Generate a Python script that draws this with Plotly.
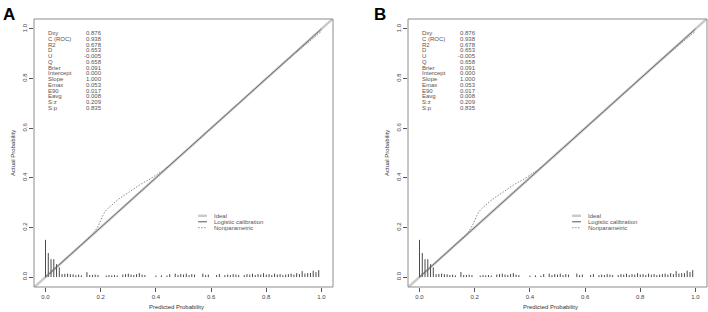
import plotly.graph_objects as go

# ---------------- data ----------------
stat_names = ["Dxy", "C (ROC)", "R2", "D", "U", "Q", "Brier", "Intercept", "Slope",
              "Emax", "E90", "Eavg", "S:z", "S:p"]
stat_values = ["0.876", "0.938", "0.678", "0.653", "-0.005", "0.658", "0.091", "0.000",
               "1.000", "0.053", "0.017", "0.008", "0.209", "0.835"]

ideal_x = [-0.05, 1.05]
ideal_y = [-0.05, 1.05]
logistic_x = [0.0, 1.0]
logistic_y = [0.0, 1.0]

nonpar_x = [0.0, 0.05, 0.10, 0.15, 0.17, 0.19, 0.216, 0.24, 0.27, 0.30, 0.342, 0.38,
            0.411, 0.43, 0.50, 0.60, 0.70, 0.80, 0.90, 1.0]
nonpar_y = [0.0, 0.05, 0.10, 0.152, 0.172, 0.205, 0.264, 0.290, 0.318, 0.340, 0.372,
            0.396, 0.419, 0.433, 0.50, 0.60, 0.70, 0.80, 0.897, 0.99]

spike_x = [0.00, 0.01, 0.02, 0.03, 0.04, 0.05, 0.06, 0.07, 0.08, 0.09, 0.10, 0.11,
           0.12, 0.13, 0.15, 0.16, 0.17, 0.18, 0.19, 0.22, 0.23, 0.24, 0.25, 0.26,
           0.28, 0.29, 0.30, 0.31, 0.32, 0.33, 0.34, 0.35, 0.36, 0.40, 0.42, 0.44,
           0.45, 0.47, 0.48, 0.49, 0.50, 0.51, 0.52, 0.53, 0.54, 0.57, 0.58, 0.59,
           0.62, 0.63, 0.65, 0.66, 0.67, 0.68, 0.69, 0.70, 0.72, 0.73, 0.74, 0.75,
           0.76, 0.77, 0.78, 0.79, 0.80, 0.81, 0.82, 0.83, 0.84, 0.85, 0.86, 0.87,
           0.88, 0.89, 0.90, 0.91, 0.92, 0.93, 0.94, 0.95, 0.96, 0.97, 0.98, 0.99]
spike_h = [0.150, 0.097, 0.072, 0.072, 0.052, 0.039, 0.012, 0.013, 0.014, 0.012, 0.011, 0.008,
           0.010, 0.007, 0.020, 0.008, 0.009, 0.010, 0.008, 0.006, 0.008, 0.007, 0.008, 0.006,
           0.010, 0.012, 0.014, 0.010, 0.008, 0.012, 0.016, 0.010, 0.008, 0.006, 0.007, 0.006,
           0.012, 0.014, 0.008, 0.012, 0.010, 0.014, 0.008, 0.012, 0.010, 0.014, 0.008, 0.010,
           0.008, 0.012, 0.008, 0.010, 0.008, 0.012, 0.010, 0.008, 0.008, 0.012, 0.010, 0.014,
           0.008, 0.012, 0.010, 0.016, 0.010, 0.012, 0.008, 0.014, 0.010, 0.012, 0.008, 0.010,
           0.012, 0.014, 0.010, 0.016, 0.012, 0.024, 0.014, 0.016, 0.016, 0.026, 0.020, 0.028]

tick_vals = [0.0, 0.2, 0.4, 0.6, 0.8, 1.0]
tick_text = ["0.0", "0.2", "0.4", "0.6", "0.8", "1.0"]
legend_labels = ["Ideal", "Logistic calibration", "Nonparametric"]
panel_letters = ["A", "B"]

# ---------------- figure ----------------
W, H = 708, 312
FONT = "Liberation Sans, Arial, sans-serif"
fig = go.Figure()

panels = [("x", "y", [34 / W, 333 / W]), ("x2", "y2", [408 / W, 707 / W])]
ydom = [1 - 287 / H, 1 - 19 / H]
ideal_col = "#cacaca"
log_col = "#707070"
np_col = "#8a8a8a"
NP_DASH = "1.5px,1.5px"

legend_styles = [dict(color=ideal_col, width=2.5, dash="solid"),
                 dict(color=log_col, width=1.2, dash="solid"),
                 dict(color=np_col, width=1, dash=NP_DASH)]

annotations = []
shapes = []
for k, (xa, ya, xdom) in enumerate(panels):
    sx = []
    sy = []
    for xv, hv in zip(spike_x, spike_h):
        sx += [xv, xv, None]
        sy += [0, hv, None]
    fig.add_trace(go.Scatter(x=ideal_x, y=ideal_y, mode="lines", xaxis=xa, yaxis=ya,
                             line=dict(color=ideal_col, width=2.5), showlegend=False,
                             hoverinfo="skip"))
    fig.add_trace(go.Scatter(x=sx, y=sy, mode="lines", xaxis=xa, yaxis=ya,
                             line=dict(color="#4a4a4a", width=1), showlegend=False,
                             hoverinfo="skip"))
    fig.add_trace(go.Scatter(x=nonpar_x, y=nonpar_y, mode="lines", xaxis=xa, yaxis=ya,
                             line=dict(color=np_col, width=1, dash=NP_DASH, shape="spline"),
                             showlegend=False, hoverinfo="skip"))
    fig.add_trace(go.Scatter(x=logistic_x, y=logistic_y, mode="lines", xaxis=xa, yaxis=ya,
                             line=dict(color=log_col, width=1), showlegend=False,
                             hoverinfo="skip"))

    # stats block
    for i, (nm, vl) in enumerate(zip(stat_names, stat_values)):
        yy = 0.983 - i * 0.0232
        annotations.append(dict(x=0.0, y=yy, xref=xa, yref=ya, text=nm, showarrow=False,
                                xanchor="left", yanchor="middle",
                                font=dict(family=FONT, size=6, color="#555")))
        annotations.append(dict(x=0.212, y=yy, xref=xa, yref=ya, text=vl, showarrow=False,
                                xanchor="right", yanchor="middle",
                                font=dict(family=FONT, size=6, color="#555")))
    # legend
    for i, (lab, st) in enumerate(zip(legend_labels, legend_styles)):
        yy = 0.247 - i * 0.024
        shapes.append(dict(type="line", xref=xa, yref=ya, x0=0.553, x1=0.585, y0=yy, y1=yy,
                           line=st))
        annotations.append(dict(x=0.603, y=yy, xref=xa, yref=ya, text=lab, showarrow=False,
                                xanchor="left", yanchor="middle",
                                font=dict(family=FONT, size=6, color="#555")))
    # box
    shapes.append(dict(type="rect", xref="paper", yref="paper", x0=xdom[0], x1=xdom[1],
                       y0=ydom[0], y1=ydom[1], line=dict(color="#8c8c8c", width=1)))
    # panel letter
    annotations.append(dict(x=[1, 372][k] / W, y=1 - 3 / H, xref="paper", yref="paper",
                            text="<b>%s</b>" % panel_letters[k], showarrow=False,
                            xanchor="left", yanchor="top",
                            font=dict(family=FONT, size=17, color="black")))
    # axis titles
    annotations.append(dict(x=(xdom[0] + xdom[1]) / 2 - 0.025 * (xdom[1] - xdom[0]), y=1 - 307 / H,
                            xref="paper", yref="paper",
                            text="Predicted Probability", showarrow=False, xanchor="center",
                            yanchor="middle", font=dict(family=FONT, size=6, color="#333")))
    annotations.append(dict(x=xdom[0] - 21 / W, y=(ydom[0] + ydom[1]) / 2, xref="paper",
                            yref="paper", text="Actual Probability", showarrow=False,
                            textangle=-90, xanchor="center", yanchor="middle",
                            font=dict(family=FONT, size=6, color="#333")))

axis_common = dict(showgrid=False, zeroline=False, ticks="outside", ticklen=4,
                   tickcolor="#555", tickwidth=1, showline=False,
                   tickvals=tick_vals, ticktext=tick_text,
                   tickfont=dict(family=FONT, size=6, color="#444"))
layout = dict(width=W, height=H, margin=dict(l=0, r=0, t=0, b=0),
              paper_bgcolor="white", plot_bgcolor="white",
              annotations=annotations, shapes=shapes, showlegend=False)
for k, (xa, ya, xdom) in enumerate(panels):
    xname = "xaxis" if k == 0 else "xaxis2"
    yname = "yaxis" if k == 0 else "yaxis2"
    layout[xname] = dict(domain=xdom, range=[-0.0417, 1.0417], anchor=ya, **axis_common)
    layout[yname] = dict(domain=ydom, range=[-0.04, 1.04], anchor=xa, tickangle=-90,
                         **axis_common)
fig.update_layout(**layout)
fig.write_html("out.html")
